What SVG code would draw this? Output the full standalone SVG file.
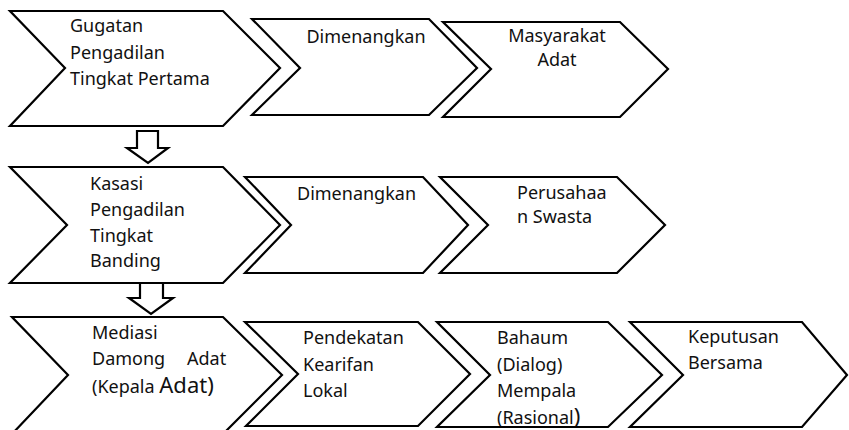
<svg xmlns="http://www.w3.org/2000/svg" width="849" height="430" viewBox="0 0 849 430">
<style>
.s{fill:#fff;stroke:#000;stroke-width:2.2;stroke-linejoin:miter}
.t{font-family:"Noto Sans","Open Sans","Liberation Sans",sans-serif;font-size:18px;fill:#111}
.c{text-anchor:middle}
.big{font-size:22px}
</style>
<defs>
<clipPath id="clipR"><rect x="430" y="320" width="240" height="106"/></clipPath>
</defs>
<rect width="849" height="430" fill="#fff"/>
<g id="node-gugatan">
<polygon class="s" points="10,11 223,11 280,68 223,126 10,126 65,68"/>
<text class="t" x="70" y="32">Gugatan</text>
<text class="t" x="70" y="59">Pengadilan</text>
<text class="t" x="70" y="85">Tingkat Pertama</text>
</g>
<g id="node-dimenangkan1">
<polygon class="s" points="252,19 429,19 477,68 429,115 252,115 300,68"/>
<text class="t c" x="366" y="43">Dimenangkan</text>
</g>
<g id="node-masyarakat">
<polygon class="s" points="443,22 620,22 668,69 620,117 443,117 491,69"/>
<text class="t c" x="557" y="42">Masyarakat</text>
<text class="t c" x="557" y="66">Adat</text>
</g>
<g id="node-kasasi">
<polygon class="s" points="10,167 223,167 280,225 223,283 10,283 67,225"/>
<text class="t" x="90" y="190">Kasasi</text>
<text class="t" x="90" y="216">Pengadilan</text>
<text class="t" x="90" y="242">Tingkat</text>
<text class="t" x="90" y="267">Banding</text>
</g>
<g id="node-dimenangkan2">
<polygon class="s" points="245,177 423,177 468,225 423,273 245,273 291,225"/>
<text class="t" x="297" y="200">Dimenangkan</text>
</g>
<g id="node-perusahaan">
<polygon class="s" points="440,177 617,177 665,225 617,273 440,273 488,225"/>
<text class="t" x="517" y="199">Perusahaa</text>
<text class="t" x="517" y="223">n Swasta</text>
</g>
<g id="node-mediasi">
<polygon class="s" points="12,317 223,317 282,375 223,434 12,434 68,375"/>
<text class="t" x="92" y="339">Mediasi</text>
<text class="t" x="92" y="365">Damong</text>
<text class="t" x="187" y="365">Adat</text>
<text class="t" x="92" y="393">(Kepala <tspan class="big">Adat)</tspan></text>
</g>
<g id="node-pendekatan">
<polygon class="s" points="245,322 418,322 470,374 418,426 246,426 298,374"/>
<text class="t" x="303" y="344">Pendekatan</text>
<text class="t" x="303" y="371">Kearifan</text>
<text class="t" x="303" y="397">Lokal</text>
</g>
<g id="node-bahaum">
<polygon class="s" points="437,322 608,322 662,375 608,427 437,427 490,375"/>
<text class="t" x="497" y="344">Bahaum</text>
<text class="t" x="497" y="371">(Dialog)</text>
<text class="t" x="497" y="397">Mempala</text>
<text class="t" x="497" y="424" clip-path="url(#clipR)">(Rasional<tspan class="big">)</tspan></text>
</g>
<g id="node-keputusan">
<polygon class="s" points="630,322 802,322 847,375 802,427 630,427 683,375"/>
<text class="t" x="688" y="343">Keputusan</text>
<text class="t" x="688" y="369">Bersama</text>
</g>
<g id="connectors">
<polygon class="s" points="137,131 158,131 158,148 168,148 148,163 127,148 137,148"/>
<polygon class="s" points="140,283 163,283 163,298 173,298 151,314 129,298 140,298"/>
</g>
</svg>
